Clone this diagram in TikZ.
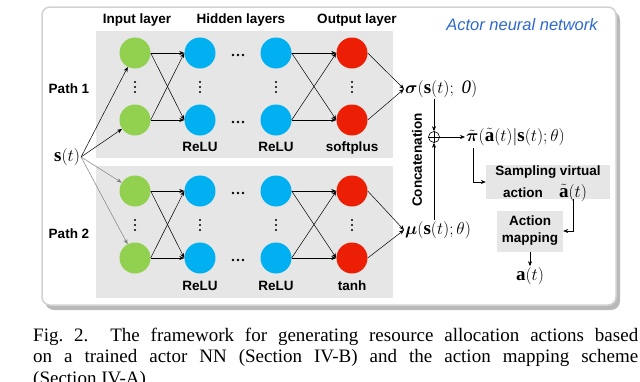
\documentclass[tikz,border=0pt]{standalone}
\usepackage{amsmath}
\usepackage{fontspec}
\setmainfont{Liberation Serif}
\setsansfont{Liberation Sans}
\usetikzlibrary{arrows.meta}
\definecolor{ingreen}{RGB}{146,208,80}
\definecolor{hidblue}{RGB}{0,176,240}
\definecolor{outred}{RGB}{236,30,4}
\definecolor{panelgray}{RGB}{230,230,230}
\definecolor{actblue}{RGB}{45,105,205}
\begin{document}
\begin{tikzpicture}[x=1pt,y=-1pt,
  lbl/.style={font=\fontsize{13.5}{17}\selectfont\sffamily\bfseries, inner sep=0pt},
  mth/.style={font=\fontsize{19}{21}\selectfont, inner sep=1pt},
  neuron/.style={circle, minimum size=31pt, inner sep=0pt},
  inn/.style={neuron, fill=ingreen},
  hid/.style={neuron, fill=hidblue},
  outn/.style={neuron, fill=outred},
  arr/.style={-{Stealth[length=5pt,width=4pt]}, line width=0.5pt},
  garr/.style={arr, draw=gray},
  box/.style={fill=panelgray, inner sep=0pt},
  capt/.style={anchor=base west, inner sep=0pt, font=\fontsize{19}{21.5}\selectfont\frenchspacing}
]
\useasboundingbox (0,0) rectangle (640,381);
\clip (0,0) rectangle (640,381);
% frame
\fill[gray!55, rounded corners=9pt] (45,11) rectangle (620,310);
\filldraw[fill=white, draw=gray!35, line width=1.5pt, rounded corners=8pt] (42,7) rectangle (616,305);
% panels
\fill[panelgray] (96,31) rectangle (393,158);
\fill[panelgray] (96,166) rectangle (393,298);
% headers
\node[lbl] (hin) at (137,20) {Input layer};
\node[lbl] (hhid) at (241,20) {Hidden layers};
\node[lbl] (hout) at (357,20) {Output layer};
\node[font=\fontsize{16.5}{18}\selectfont\sffamily\itshape, text=actblue, inner sep=0pt] (title) at (522,25) {Actor neural network};
\node[lbl] (p1) at (69,89) {Path 1};
\node[lbl] (p2) at (69,234) {Path 2};
% neurons path 1
\node[inn] (i1t) at (135,53) {};
\node[inn] (i1b) at (135,120) {};
\node[hid] (a1t) at (200,53) {};
\node[hid] (a1b) at (200,120) {};
\node[hid] (b1t) at (276,53) {};
\node[hid] (b1b) at (276,120) {};
\node[outn] (o1t) at (352,53) {};
\node[outn] (o1b) at (352,120) {};
% neurons path 2
\node[inn] (i2t) at (135,191) {};
\node[inn] (i2b) at (135,258) {};
\node[hid] (a2t) at (200,191) {};
\node[hid] (a2b) at (200,258) {};
\node[hid] (b2t) at (276,191) {};
\node[hid] (b2b) at (276,258) {};
\node[outn] (o2t) at (352,191) {};
\node[outn] (o2b) at (352,258) {};
% activation labels
\node[lbl] (r1) at (200,147) {ReLU};
\node[lbl] (r2) at (276,147) {ReLU};
\node[lbl] (sp) at (352,148) {softplus};
\node[lbl] (r3) at (200,286) {ReLU};
\node[lbl] (r4) at (276,286) {ReLU};
\node[lbl] (th) at (352,286) {tanh};
% dots
\foreach \yy in {55,122,193,260}{
  \foreach \dx in {-5,0,5}{\fill (238+\dx,\yy) circle (1.3);}
}
\foreach \xx in {135,200,276,352}{
  \foreach \yy in {87,225}{
    \foreach \dy in {-5,0,5}{\fill (\xx,\yy+\dy) circle (1.2);}
  }
}
% input state
\node[mth] (s) at (67,157) {$\mathbf{s}(t)$};
\draw[arr] (s.east) -- (i1t);
\draw[arr] (s.east) -- (i1b);
\draw[garr] (s.east) -- (i2t);
\draw[garr] (s.east) -- (i2b);
% layer connections
\foreach \p in {1,2}{
  \draw[arr] (i\p t.east) -- (a\p t.west);
  \draw[arr] (i\p t.east) -- (a\p b.west);
  \draw[arr] (i\p b.east) -- (a\p t.west);
  \draw[arr] (i\p b.east) -- (a\p b.west);
  \draw[arr] (b\p t.east) -- (o\p t.west);
  \draw[arr] (b\p t.east) -- (o\p b.west);
  \draw[arr] (b\p b.east) -- (o\p t.west);
  \draw[arr] (b\p b.east) -- (o\p b.west);
}
% outputs
\node[mth, anchor=west] (sig) at (404,89) {$\boldsymbol{\sigma}(\mathbf{s}(t);\ \mathit{0})$};
\node[mth, anchor=west] (mu) at (404,230) {$\boldsymbol{\mu}(\mathbf{s}(t);\theta)$};
\draw[arr] (o1t.east) -- (sig.west);
\draw[arr] (o1b.east) -- (sig.west);
\draw[arr] (o2t.east) -- (mu.west);
\draw[arr] (o2b.east) -- (mu.west);
% concatenation
\node[circle, draw, line width=0.6pt, minimum size=11pt, inner sep=0pt] (plus) at (434,137) {};
\draw[line width=0.6pt] (plus.north) -- (plus.south) (plus.west) -- (plus.east);
\node[lbl, rotate=90] (conc) at (417,160) {Concatenation};
\draw[arr] (sig.south -| plus) -- (plus.north);
\draw[arr] (mu.north -| plus) -- (plus.south);
\node[mth, anchor=west] (pi) at (465,137) {$\tilde{\boldsymbol{\pi}}(\tilde{\mathbf{a}}(t)|\mathbf{s}(t);\theta)$};
\draw[arr] (plus.east) -- (pi.west);
% sampling and mapping
\node[box, minimum width=124pt, minimum height=34pt] (samp) at (548,182) {};
\node[lbl] (samp1) at (548,172) {Sampling virtual};
\node[lbl, anchor=base] (samp2) at (523,197) {action};
\node[mth, anchor=base] (atil) at (573,197) {$\tilde{\mathbf{a}}(t)$};
\node[box, lbl, minimum width=66pt, minimum height=41pt, align=center] (map) at (530,231) {Action\\mapping};
\node[mth] (a) at (530,276) {$\mathbf{a}(t)$};
\coordinate (pid) at (473,148);
\draw[arr] (pid) |- (samp.west);
\draw[arr] (samp.south -| atil) |- (map.east);
\draw[arr] (map.south) -- (a.north);
% caption
\node[capt] (cap1) at (33,341) {\makebox[605pt][s]{Fig. 2.~~The framework for generating resource allocation actions based}};
\node[capt] (cap2) at (33,362) {\makebox[605pt][s]{on a trained actor NN (Section IV-B) and the action mapping scheme}};
\node[capt] (cap3) at (33,384) {(Section IV-A).};
\end{tikzpicture}
\end{document}
